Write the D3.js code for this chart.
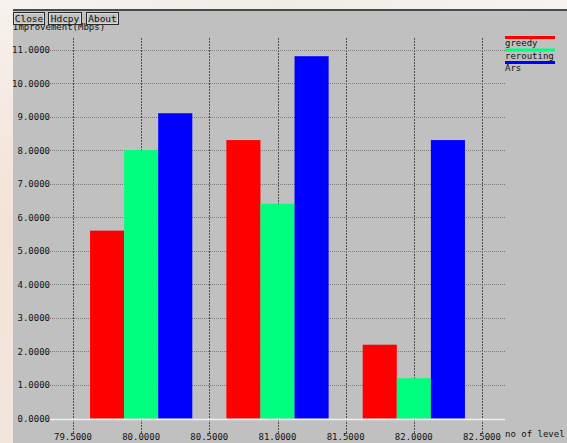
<!DOCTYPE html>
<html>
<head>
<meta charset="utf-8">
<script src="https://cdn.jsdelivr.net/npm/d3@7/dist/d3.min.js"></script>
<style>
html,body{margin:0;padding:0;background:#f4ede8;overflow:hidden;}
svg{display:block;}
text{font-family:"DejaVu Sans Mono","Liberation Mono",monospace;font-size:9px;fill:#111;}
</style>
</head>
<body>
<script>
// ---- data ----
const levels = [80, 81, 82];
const seriesNames = ["greedy", "rerouting", "Ars"];
const greedy = [5.6, 8.3, 2.2];
const rerouting = [8.0, 6.4, 1.2];
const ars = [9.1, 10.8, 8.3];
const xTicks = [79.5, 80.0, 80.5, 81.0, 81.5, 82.0, 82.5];
const yTicks = [0, 1, 2, 3, 4, 5, 6, 7, 8, 9, 10, 11];
const buttons = ["Close", "Hdcpy", "About"];
const yTitle = "Improvement(Mbps)";
const xTitle = "no of level";

const colors = ["#ff0000", "#00ff7f", "#0000ff"];
const allSeries = [greedy, rerouting, ars];

const W = 567, H = 443;
const svg = d3.select("body").append("svg").attr("width", W).attr("height", H);

// background outside the panel
const defs = svg.append("defs");
const g1 = defs.append("linearGradient").attr("id","bgL").attr("x1",0).attr("y1",0).attr("x2",0).attr("y2",1);
g1.append("stop").attr("offset","0").attr("stop-color","#f6f1ec");
g1.append("stop").attr("offset","0.5").attr("stop-color","#f3e2d8");
g1.append("stop").attr("offset","1").attr("stop-color","#f2e6dc");
svg.append("rect").attr("x",0).attr("y",0).attr("width",W).attr("height",H).attr("fill","url(#bgL)");
const g2 = defs.append("linearGradient").attr("id","bgT").attr("x1",0).attr("y1",0).attr("x2",1).attr("y2",0);
g2.append("stop").attr("offset","0").attr("stop-color","#f6f2ee");
g2.append("stop").attr("offset","0.5").attr("stop-color","#f1ece6");
g2.append("stop").attr("offset","1").attr("stop-color","#f7f3ef");
svg.append("rect").attr("x",0).attr("y",0).attr("width",W).attr("height",9).attr("fill","url(#bgT)");

// panel
svg.append("rect").attr("x",13).attr("y",9).attr("width",W-13).attr("height",H-9).attr("fill","#c0c0c0");
svg.append("rect").attr("x",13).attr("y",9).attr("width",W-13).attr("height",2).attr("fill","#4a4a4a");

// scales
const x = d3.scaleLinear().domain([79.5, 82.5]).range([73, 482]);
const y = d3.scaleLinear().domain([0, 11]).range([418.5, 49.5]);
const fmt = d3.format(".4f");

// vertical grid lines
svg.append("g").selectAll("line").data(xTicks).join("line")
  .attr("x1", d => Math.round(x(d)) + 0.5).attr("x2", d => Math.round(x(d)) + 0.5)
  .attr("y1", 38).attr("y2", 433)
  .attr("stroke", "#505050").attr("stroke-width", 1).attr("stroke-dasharray", "2,1");

// horizontal grid lines
svg.append("g").selectAll("line").data(yTicks.filter(d => d > 0)).join("line")
  .attr("x1", 50).attr("x2", 505)
  .attr("y1", d => Math.round(y(d)) + 0.5).attr("y2", d => Math.round(y(d)) + 0.5)
  .attr("stroke", "#7a7a7a").attr("stroke-width", 1).attr("stroke-dasharray", "1,1");

// y tick labels
svg.append("g").selectAll("text").data(yTicks).join("text")
  .attr("x", 50).attr("y", d => y(d) + 3.5)
  .attr("text-anchor", "end")
  .text(d => fmt(d));

// bars
const bw = 0.25;
allSeries.forEach((vals, si) => {
  svg.append("g").selectAll("rect").data(levels.map((lv, i) => ({lv, v: vals[i]}))).join("rect")
    .attr("x", d => x(d.lv - 0.375 + si * bw))
    .attr("width", d => x(d.lv - 0.375 + (si + 1) * bw) - x(d.lv - 0.375 + si * bw))
    .attr("y", d => y(d.v))
    .attr("height", d => y(0) - y(d.v))
    .attr("fill", colors[si]);
});

// zero line (white)
svg.append("line").attr("x1", 50).attr("x2", 505)
  .attr("y1", Math.round(y(0)) + 0.5).attr("y2", Math.round(y(0)) + 0.5)
  .attr("stroke", "#f0f0f0").attr("stroke-width", 1.5);

// x tick labels (at the bottom edge, as in the reference)
svg.append("g").selectAll("text").data(xTicks).join("text")
  .attr("x", d => x(d)).attr("y", 440)
  .attr("text-anchor", "middle")
  .text(d => fmt(d));

// x title
svg.append("text").attr("x", 505).attr("y", 437).text(xTitle);

// legend
seriesNames.forEach((name, i) => {
  const ly = 37.5 + i * 12.5;
  svg.append("rect").attr("x", 505).attr("y", ly - 1.5).attr("width", 50).attr("height", 3).attr("fill", colors[i]);
  svg.append("text").attr("x", 505).attr("y", ly + 8.5).text(name);
});

// y title (partly hidden by buttons)
svg.append("text").attr("x", 13).attr("y", 30).text(yTitle);

// buttons
const bx = [13, 48, 86];
const bwid = [31, 33, 32];
buttons.forEach((b, i) => {
  svg.append("rect").attr("x", bx[i] + 0.5).attr("y", 12.5).attr("width", bwid[i]).attr("height", 12)
    .attr("fill", "#c0c0c0").attr("stroke", "#2a2a2a").attr("stroke-width", 1);
  svg.append("rect").attr("x", bx[i] + 1.5).attr("y", 13.5).attr("width", bwid[i] - 2).attr("height", 10)
    .attr("fill", "none").attr("stroke", "#e8e8e8").attr("stroke-width", 0.6);
  svg.append("text").attr("x", bx[i] + bwid[i] / 2 + 0.5).attr("y", 21.5).attr("text-anchor", "middle")
    .style("font-size", "9.5px").text(b);
});
</script>
</body>
</html>
